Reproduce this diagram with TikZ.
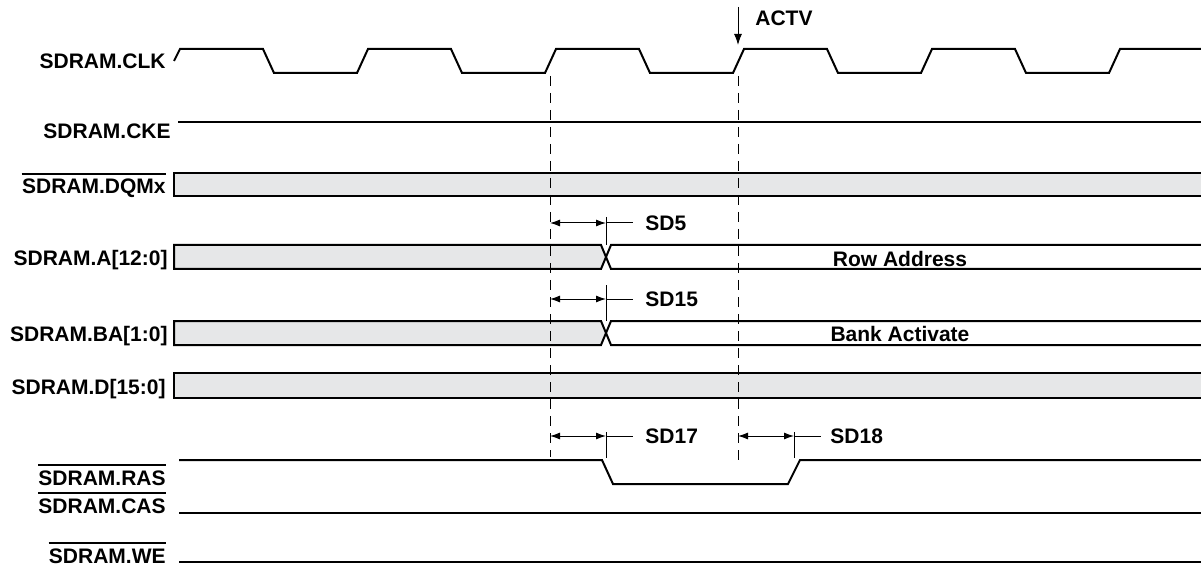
\documentclass[tikz,border=0pt]{standalone}
\usepackage{fontspec}
\setmainfont{Liberation Sans}
\usetikzlibrary{arrows.meta}
\definecolor{busgray}{RGB}{230,231,232}

\begin{document}
\begin{tikzpicture}[x=0.5pt,y=-0.5pt,font=\fontsize{10.5}{12}\selectfont\bfseries,
  sig/.style={line width=1pt},
  thinl/.style={line width=0.5pt},
  edgeline/.style={line width=0.5pt,dash pattern=on 5pt off 3.5pt},
  dim/.style={line width=0.5pt,{Latex[length=5pt,width=3.5pt]}-{Latex[length=5pt,width=3.5pt]}},
  lbl/.style={anchor=base east,inner sep=0pt},
  sdlbl/.style={anchor=west,inner sep=0pt},
  obar/.style={line width=1pt}]
\useasboundingbox (0,0) rectangle (1201,567);

\node[lbl] (lclk) at (166,69) {SDRAM.CLK};
\node[lbl] (lcke) at (171,139) {SDRAM.CKE};
\node[lbl] (ldqm) at (166,194) {SDRAM.DQMx};
\node[lbl] (la) at (168,265) {SDRAM.A[12:0]};
\node[lbl] (lba) at (168,341) {SDRAM.BA[1:0]};
\node[lbl] (ld) at (166,394) {SDRAM.D[15:0]};
\node[lbl] (lras) at (166,485) {SDRAM.RAS};
\node[lbl] (lcas) at (166,513) {SDRAM.CAS};
\node[lbl] (lwe) at (166,563) {SDRAM.WE};
\foreach \n in {ldqm,lras,lcas,lwe}
  \draw[obar] ([yshift=2.5pt]\n.north west) -- ([yshift=2.5pt]\n.north east);

% clock
\draw[sig] (174,61) -- (180,49) \foreach \k in {0,...,4}
  { -- ({263+188*\k},49) -- ({274+188*\k},73) -- ({357+188*\k},73) -- ({368+188*\k},49)} -- (1205,49);
\draw[sig] (178,122) -- (1205,122);

% buses
\draw[sig,fill=busgray] (1205,173) -- (174,173) -- (174,196) -- (1205,196);
\draw[sig,fill=busgray] (174,245) -- (601,245) -- (606,257) -- (601,269) -- (174,269) -- cycle;
\draw[sig] (1205,245) -- (611,245) -- (606,257) -- (611,269) -- (1205,269);
\node[anchor=base,inner sep=0pt] (rowaddr) at (900,266) {Row Address};
\draw[sig,fill=busgray] (174,321) -- (601,321) -- (606,333) -- (601,345) -- (174,345) -- cycle;
\draw[sig] (1205,321) -- (611,321) -- (606,333) -- (611,345) -- (1205,345);
\node[anchor=base,inner sep=0pt] (bankact) at (900,342) {Bank Activate};
\draw[sig,fill=busgray] (1205,373) -- (174,373) -- (174,398) -- (1205,398);

\draw[sig] (179,460) -- (602,460) -- (613,484) -- (788,484) -- (800,460) -- (1205,460);
\draw[sig] (179,513) -- (1205,513);
\draw[sig] (179,562) -- (1205,562);

% reference edges
\coordinate (t0) at (550,76);
\coordinate (t1) at (738,76);
\draw[edgeline] (t0) -- ++(0,381);
\draw[edgeline] (t1) -- ++(0,386);
\node[sdlbl] (actv) at (755,18) {ACTV};
\draw[thinl,-{Latex[length=5.5pt,width=4pt]}] (738,7) -- (738,45);

\node[sdlbl] (sd5) at (645,223) {SD5};
\draw[dim] (550,223) -- (606,223);
\draw[thinl] (606,217) -- (606,245) (606,223) -- ([xshift=-6pt]sd5.west);
\node[sdlbl] (sd15) at (645,299) {SD15};
\draw[dim] (550,299) -- (606,299);
\draw[thinl] (606,285) -- (606,321) (606,299) -- ([xshift=-6pt]sd15.west);
\node[sdlbl] (sd17) at (645,436) {SD17};
\draw[dim] (550,436) -- (606,436);
\draw[thinl] (606,432) -- (606,458) (606,436) -- ([xshift=-6pt]sd17.west);
\node[sdlbl] (sd18) at (830,436) {SD18};
\draw[dim] (738,436) -- (794,436);
\draw[thinl] (794,432) -- (794,458) (794,436) -- ([xshift=-4.5pt]sd18.west);
\end{tikzpicture}
\end{document}
